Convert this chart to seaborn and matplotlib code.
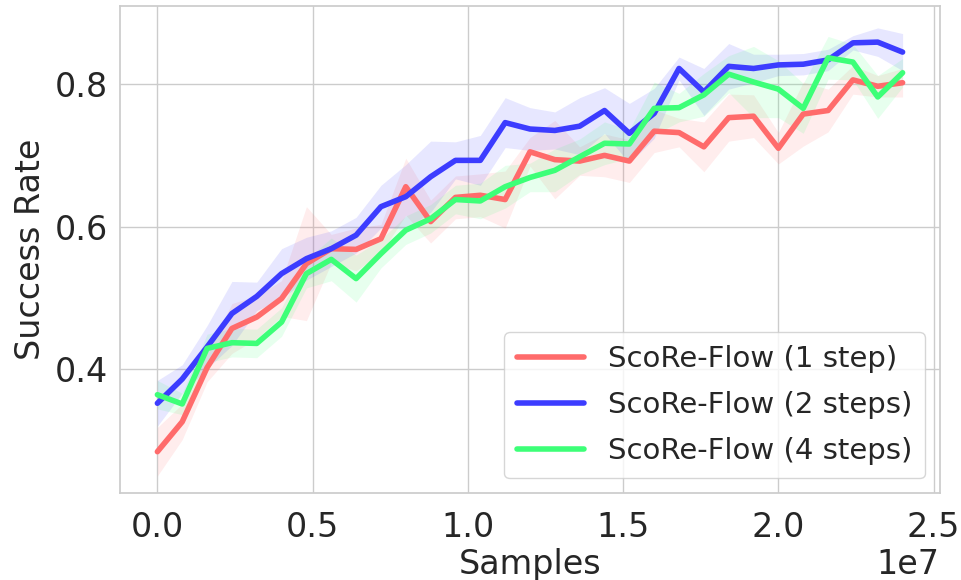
import numpy as np
import pandas as pd
import matplotlib
matplotlib.use("Agg")
import matplotlib.pyplot as plt
import seaborn as sns

# x positions in units of samples (31 evaluation points)
samples = np.arange(31) * 0.08e7

labels = ["ScoRe-Flow (1 step)", "ScoRe-Flow (2 steps)", "ScoRe-Flow (4 steps)"]
colors = ["#ff6b6b", "#3c3cff", "#3dff78"]

red_mean = [0.284, 0.326, 0.402, 0.457, 0.473, 0.499, 0.548, 0.569, 0.568, 0.583,
            0.656, 0.607, 0.641, 0.644, 0.638, 0.705, 0.694, 0.692, 0.700, 0.692,
            0.734, 0.732, 0.712, 0.753, 0.755, 0.710, 0.758, 0.763, 0.806, 0.797, 0.802]
red_err = [0.034, 0.025, 0.02, 0.035, 0.03, 0.025, 0.08, 0.02, 0.03, 0.02,
           0.04, 0.03, 0.03, 0.03, 0.04, 0.02, 0.055, 0.02, 0.03, 0.03,
           0.03, 0.02, 0.035, 0.033, 0.03, 0.022, 0.045, 0.03, 0.02, 0.015, 0.02]

blue_mean = [0.352, 0.386, 0.431, 0.478, 0.502, 0.534, 0.555, 0.569, 0.588, 0.628,
             0.642, 0.670, 0.693, 0.693, 0.746, 0.737, 0.735, 0.741, 0.763, 0.731,
             0.759, 0.822, 0.789, 0.825, 0.822, 0.827, 0.828, 0.834, 0.858, 0.859, 0.845]
blue_err = [0.032, 0.02, 0.03, 0.045, 0.02, 0.035, 0.03, 0.025, 0.025, 0.03,
            0.045, 0.05, 0.026, 0.035, 0.035, 0.03, 0.026, 0.04, 0.032, 0.042,
            0.035, 0.016, 0.033, 0.032, 0.02, 0.015, 0.015, 0.015, 0.01, 0.02, 0.026]

green_mean = [0.364, 0.351, 0.429, 0.437, 0.436, 0.466, 0.534, 0.554, 0.527, 0.562,
              0.595, 0.611, 0.638, 0.636, 0.656, 0.669, 0.679, 0.698, 0.717, 0.716,
              0.766, 0.767, 0.785, 0.814, 0.803, 0.793, 0.766, 0.837, 0.831, 0.782, 0.816]
green_err = [0.02, 0.015, 0.02, 0.02, 0.02, 0.02, 0.02, 0.03, 0.033, 0.02,
             0.02, 0.02, 0.02, 0.025, 0.03, 0.02, 0.03, 0.025, 0.03, 0.02,
             0.037, 0.02, 0.03, 0.026, 0.05, 0.04, 0.035, 0.03, 0.025, 0.03, 0.02]

means = [red_mean, blue_mean, green_mean]
errs = [red_err, blue_err, green_err]

frames = []
for lab, m, e in zip(labels, means, errs):
    frames.append(pd.DataFrame({"Samples": samples, "Success Rate": m,
                                "err": e, "method": lab}))
df = pd.concat(frames, ignore_index=True)

sns.set_theme(style="whitegrid")
plt.rcParams["font.family"] = ["DejaVu Sans"]

fig = plt.figure(figsize=(9.61, 5.80), dpi=100)
ax = fig.add_axes([0.125, 0.15, 0.853, 0.84])

palette = dict(zip(labels, colors))
sns.lineplot(data=df, x="Samples", y="Success Rate", hue="method",
             palette=palette, linewidth=4, ax=ax, errorbar=None)

for lab, col in zip(labels, colors):
    sub = df[df["method"] == lab]
    ax.fill_between(sub["Samples"], sub["Success Rate"] - sub["err"],
                    sub["Success Rate"] + sub["err"], color=col, alpha=0.12,
                    linewidth=0)

ax.set_xlim(-0.12e7, 2.52e7)
ax.set_ylim(0.226, 0.91)
ax.set_yticks([0.4, 0.6, 0.8])
ax.set_xticks([0, 0.5e7, 1.0e7, 1.5e7, 2.0e7, 2.5e7])
ax.tick_params(labelsize=24, colors="#262626")
ax.tick_params(axis="x", pad=7)
ax.tick_params(axis="y", pad=3)
ax.xaxis.get_offset_text().set_fontsize(24)
ax.set_xlabel("Samples", fontsize=24, labelpad=3)
ax.set_ylabel("Success Rate", fontsize=24, labelpad=5)

leg = ax.legend(loc="lower right", fontsize=21, frameon=True,
                handlelength=2.3, borderpad=0.45, labelspacing=0.62,
                handletextpad=0.8, borderaxespad=0.5)
for line in leg.get_lines():
    line.set_linewidth(4)

fig.savefig("out.png", dpi=100)
